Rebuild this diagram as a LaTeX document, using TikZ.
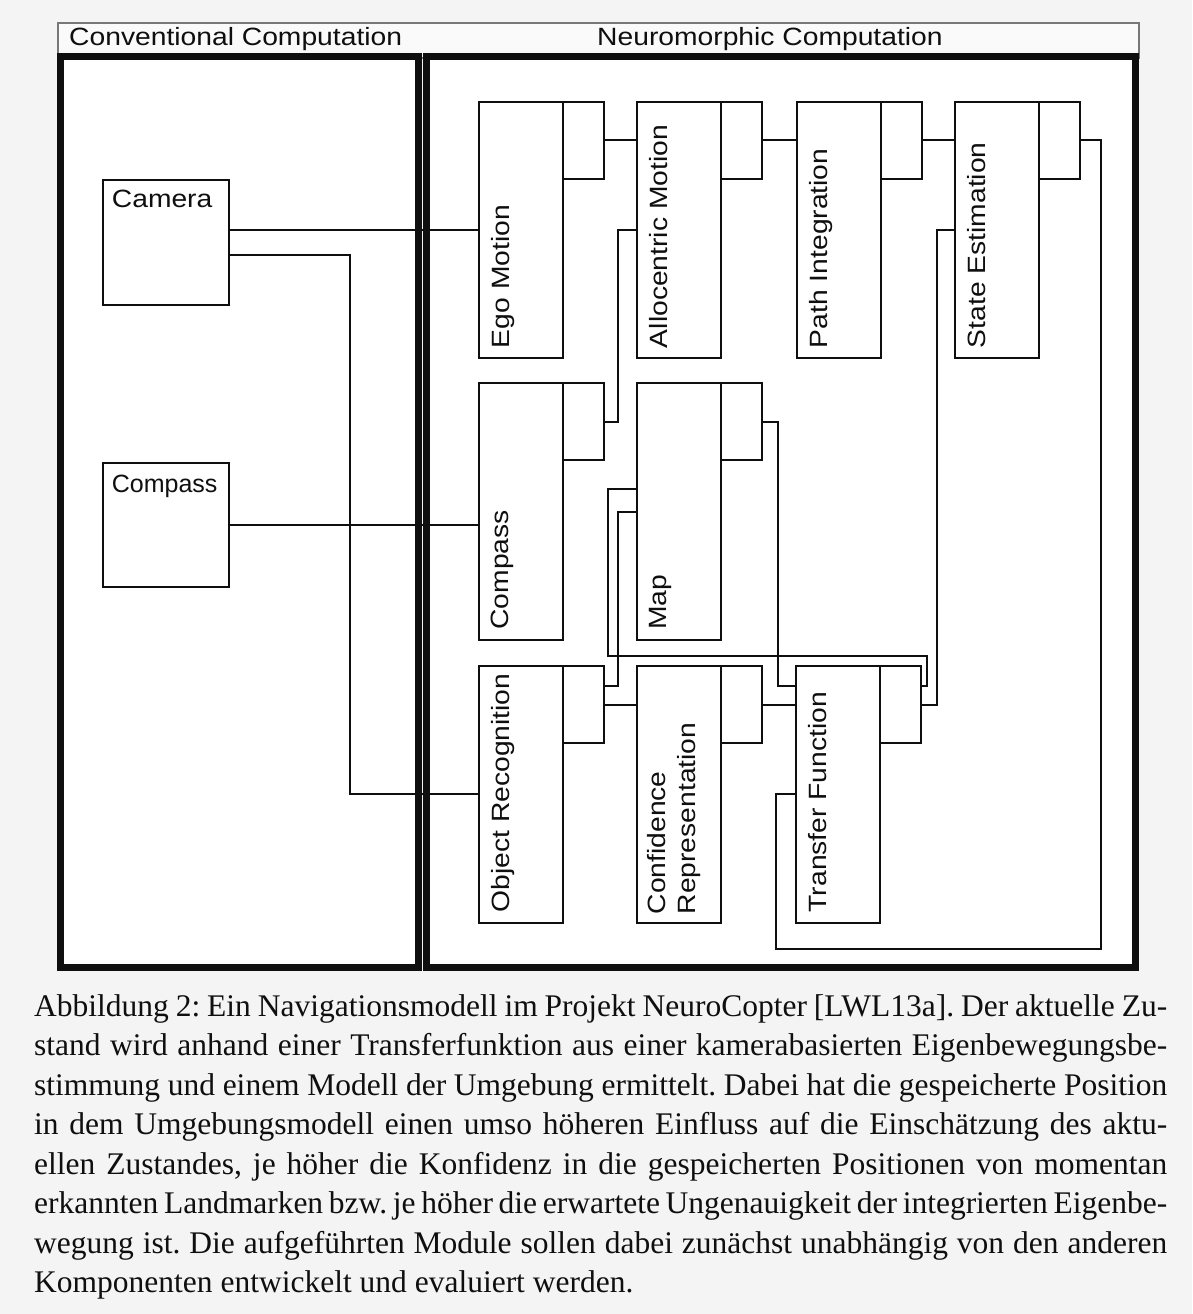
\documentclass[tikz,border=0pt]{standalone}
\usepackage{fontspec}
\setmainfont{Liberation Serif}
\newfontfamily\diag{Liberation Sans}
\usetikzlibrary{calc}
\definecolor{bgc}{RGB}{244,244,244}
\definecolor{ink}{RGB}{15,15,15}
\definecolor{hdr}{RGB}{120,120,120}
\newcommand{\wtx}[1]{\scalebox{1.13}[1]{#1}}
\begin{document}
\begin{tikzpicture}[x=1pt,y=-1pt,
  frame/.style={draw=ink, line width=6.5pt, fill=white},
  mainbox/.style={draw=ink, line width=2pt, fill=white, minimum width=84pt, minimum height=256.5pt, inner sep=0pt, outer sep=0pt, anchor=north west},
  smallbox/.style={draw=ink, line width=2pt, fill=white, minimum width=41pt, minimum height=77pt, inner sep=0pt, outer sep=0pt, anchor=north west},
  srcbox/.style={draw=ink, line width=2pt, fill=white, minimum width=126pt, minimum height=125pt, inner sep=0pt, outer sep=0pt, anchor=north west},
  rotlabel/.style={rotate=90, anchor=north west, inner sep=0pt, align=left, font=\diag\fontsize{25}{30}\selectfont, text=ink},
  hlabel/.style={anchor=north west, inner sep=0pt, font=\diag\fontsize{25}{30}\selectfont, text=ink},
  conn/.style={draw=ink, line width=2pt},
]
\fill[bgc] (0,0) rectangle (1192,1314);
\useasboundingbox (0,0) rectangle (1192,1314);

% header
\draw[hdr, line width=1.5pt, fill=white!50!bgc] (58,23) rectangle (1139,58);
\node[hlabel] (hc) at (69,27.5) {\wtx{Conventional Computation}};
\node[hlabel] (hn) at (597,27.5) {\wtx{Neuromorphic Computation}};

% frames
\draw[frame] (60.5,56.7) rectangle (418.5,967.5);
\draw[frame] (426.5,56.7) rectangle (1135.3,967.5);

% conventional sources
\node[srcbox] (camera) at (102.5,180) {};
\node[hlabel] (camlab) at (111.7,189.5) {\wtx{Camera}};
\node[srcbox, minimum height=124pt] (compC) at (102.5,463) {};
\node[hlabel] (complab) at (111.7,474.5) {Compass};

% modules: top row
\node[mainbox] (ego) at (479,101.7) {};
\node[smallbox] (egoS) at (ego.north east) {};
\node[mainbox] (allo) at (637,101.7) {};
\node[smallbox] (alloS) at (allo.north east) {};
\node[mainbox] (path) at (797,101.7) {};
\node[smallbox] (pathS) at (path.north east) {};
\node[mainbox] (state) at (955,101.7) {};
\node[smallbox] (stateS) at (state.north east) {};
% middle row
\node[mainbox] (compM) at (479,383.3) {};
\node[smallbox] (compS) at (compM.north east) {};
\node[mainbox] (map) at (637,383.3) {};
\node[smallbox] (mapS) at (map.north east) {};
% bottom row
\node[mainbox] (obj) at (479,666) {};
\node[smallbox] (objS) at (obj.north east) {};
\node[mainbox] (conf) at (637,666) {};
\node[smallbox] (confS) at (conf.north east) {};
\node[mainbox] (trans) at (796,666) {};
\node[smallbox] (transS) at (trans.north east) {};

% labels
\node[rotlabel] (egoL) at ($(ego.south west)+(11.7,-10)$) {\wtx{Ego Motion}};
\node[rotlabel] (alloL) at ($(allo.south west)+(11.7,-10)$) {\wtx{Allocentric Motion}};
\node[rotlabel] (pathL) at ($(path.south west)+(11.7,-10)$) {\wtx{Path Integration}};
\node[rotlabel] (stateL) at ($(state.south west)+(11.7,-10)$) {\wtx{State Estimation}};
\node[rotlabel] (compL) at ($(compM.south west)+(11.7,-10)$) {\wtx{Compass}};
\node[rotlabel] (mapL) at ($(map.south west)+(11.7,-10)$) {\wtx{Map}};
\node[rotlabel] (objL) at ($(obj.south west)+(11.7,-10)$) {\wtx{Object Recognition}};
\node[rotlabel] (confL) at ($(conf.south west)+(10,-8)$) {\wtx{Confidence}\\\wtx{Representation}};
\node[rotlabel] (transL) at ($(trans.south west)+(11.7,-10)$) {\wtx{Transfer Function}};

% connectors
\draw[conn] (camera.east |- ego.west) -- (ego.west);
\coordinate (cj) at (350,255);
\draw[conn] (camera.east |- cj) -- (cj) |- (obj.west);
\draw[conn] (compC.east) -- (compC.east -| compM.west);
\draw[conn] (egoS.east) -- (egoS.east -| allo.west);
\draw[conn] (alloS.east) -- (alloS.east -| path.west);
\draw[conn] (pathS.east) -- (pathS.east -| state.west);
\coordinate (rb) at (1101,949);
\coordinate (lb) at (775.6,949);
\draw[conn] (stateS.east) -| (rb) -- (lb) |- (trans.west);
\coordinate (aj) at ($(allo.west)+(-19,0)$);
\draw[conn] (allo.west) -- (aj) |- (compS.east);
\coordinate (sj) at ($(state.west)+(-18,0)$);
\draw[conn] (state.west) -- (sj) |- (transS.east);
\coordinate (m1) at ($(map.west)+(-29,-23)$);
\coordinate (m2) at (927,656);
\coordinate (t1) at ($(transS.east)+(0,-19)$);
\draw[conn] (map.west |- m1) -- (m1) |- (m2) |- (t1);
\coordinate (o1) at ($(objS.east)+(0,-19)$);
\coordinate (o2) at ($(map.west)+(-19,0)$);
\draw[conn] (map.west) -- (o2) |- (o1);
\draw[conn] (objS.east) -- (objS.east -| conf.west);
\draw[conn] (confS.east) -- (confS.east -| trans.west);
\coordinate (k1) at ($(mapS.east)+(15.5,0)$);
\coordinate (t2) at (trans.west |- o1);
\draw[conn] (mapS.east) -- (k1) |- (t2);

% caption
\node[anchor=north west, inner sep=0pt, align=left, text=ink,
  font=\fontsize{31.5}{39.5}\selectfont\frenchspacing] (caption) at (34,994) {%
\makebox[1133pt][s]{Abbildung 2: Ein Navigationsmodell im Projekt NeuroCopter [LWL13a]. Der aktuelle Zu-}\\
\makebox[1133pt][s]{stand wird anhand einer Transferfunktion aus einer kamerabasierten Eigenbewegungsbe-}\\
\makebox[1133pt][s]{stimmung und einem Modell der Umgebung ermittelt. Dabei hat die gespeicherte Position}\\
\makebox[1133pt][s]{in dem Umgebungsmodell einen umso höheren Einfluss auf die Einschätzung des aktu-}\\
\makebox[1133pt][s]{ellen Zustandes, je höher die Konfidenz in die gespeicherten Positionen von momentan}\\
\makebox[1133pt][s]{erkannten Landmarken bzw. je höher die erwartete Ungenauigkeit der integrierten Eigenbe-}\\
\makebox[1133pt][s]{wegung ist. Die aufgeführten Module sollen dabei zunächst unabhängig von den anderen}\\
Komponenten entwickelt und evaluiert werden.};
\end{tikzpicture}
\end{document}
